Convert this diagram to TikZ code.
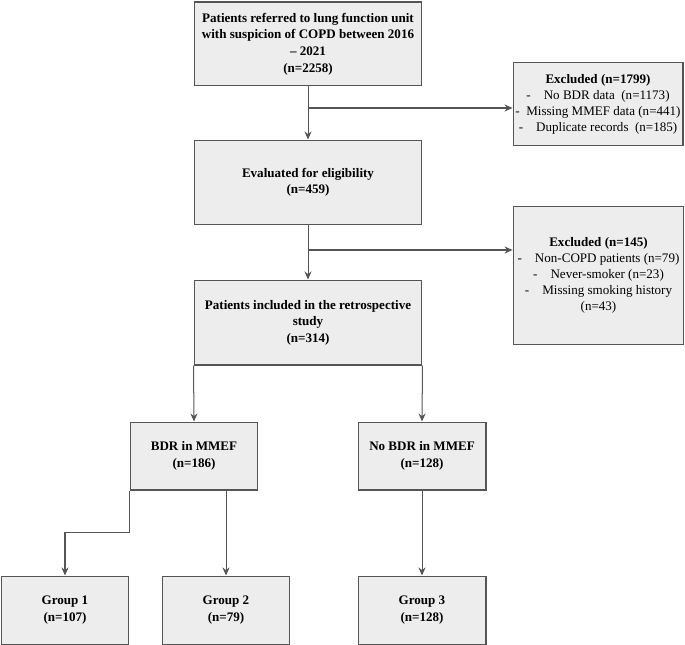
\documentclass[tikz,border=0pt]{standalone}
\usepackage{fontspec}
\setmainfont{Liberation Serif}
\usetikzlibrary{arrows.meta}
\definecolor{boxfill}{HTML}{EDEDED}
\definecolor{linegray}{HTML}{555555}

\begin{document}
\begin{tikzpicture}[x=0.035cm,y=-0.035cm,
        box/.style={draw=linegray,fill=boxfill,line width=1pt,align=center,inner sep=2pt,
            font=\fontsize{13}{16.5}\selectfont\bfseries},
        exbox/.style={box,font=\fontsize{13}{16}\selectfont},
        arr/.style={draw=linegray,line width=1pt,-{Stealth[length=8pt,width=7pt]}}]
    \useasboundingbox (0,0) rectangle (685,645);
    % main column
    \node[box,minimum width=7.98cm,minimum height=2.94cm] (refer) at (308,44)
        {Patients referred to lung function unit\\with suspicion of COPD between 2016\\– 2021\\(n=2258)};
    \node[box,minimum width=7.98cm,minimum height=2.975cm] (eval) at (308,182.5)
        {Evaluated for eligibility\\(n=459)};
    \node[box,minimum width=7.98cm,minimum height=2.975cm] (incl) at (308,322.5)
        {Patients included in the retrospective\\study\\(n=314)};
    % excluded
    \node[exbox,minimum width=5.95cm,minimum height=2.94cm] (ex1) at (598,104)
        {\textbf{Excluded (n=1799)}\\-\quad No BDR data~ (n=1173)\\-\enspace Missing MMEF data (n=441)\\-\quad Duplicate records~ (n=185)};
    \node[exbox,minimum width=5.98cm,minimum height=4.8cm] (ex2) at (598.5,275.5)
        {\textbf{Excluded (n=145)}\\-\quad Non-COPD patients (n=79)\\-\quad Never-smoker (n=23)\\-\quad Missing smoking history\\(n=43)};
    % BDR split
    \node[box,minimum width=4.48cm,minimum height=2.38cm] (bdr) at (194,456)
        {BDR in MMEF\\(n=186)};
    \node[box,minimum width=4.48cm,minimum height=2.38cm] (nobdr) at (422,456)
        {No BDR in MMEF\\(n=128)};
    % groups
    \node[box,minimum width=4.48cm,minimum height=2.38cm] (g1) at (65,610)
        {Group 1\\(n=107)};
    \node[box,minimum width=4.48cm,minimum height=2.38cm] (g2) at (226,610)
        {Group 2\\(n=79)};
    \node[box,minimum width=4.48cm,minimum height=2.38cm] (g3) at (422,610)
        {Group 3\\(n=128)};
    % connectors
    \coordinate (j1) at (308,108);
    \coordinate (j2) at (308,250);
    \draw[arr] (refer) -- (eval);
    \draw[arr] (j1) -- (j1 -| ex1.west);
    \draw[arr] (eval) -- (incl);
    \draw[arr] (j2) -- (j2 -| ex2.west);
    \draw[arr] (incl.south west) -- (bdr.north);
    \draw[arr] (incl.south east) -- (nobdr.north);
    \draw[arr] (bdr.south west) -- ++(0,42) -| (g1.north);
    \draw[arr] (g2.north |- bdr.south) -- (g2.north);
    \draw[arr] (nobdr) -- (g3);
\end{tikzpicture}
\end{document}
